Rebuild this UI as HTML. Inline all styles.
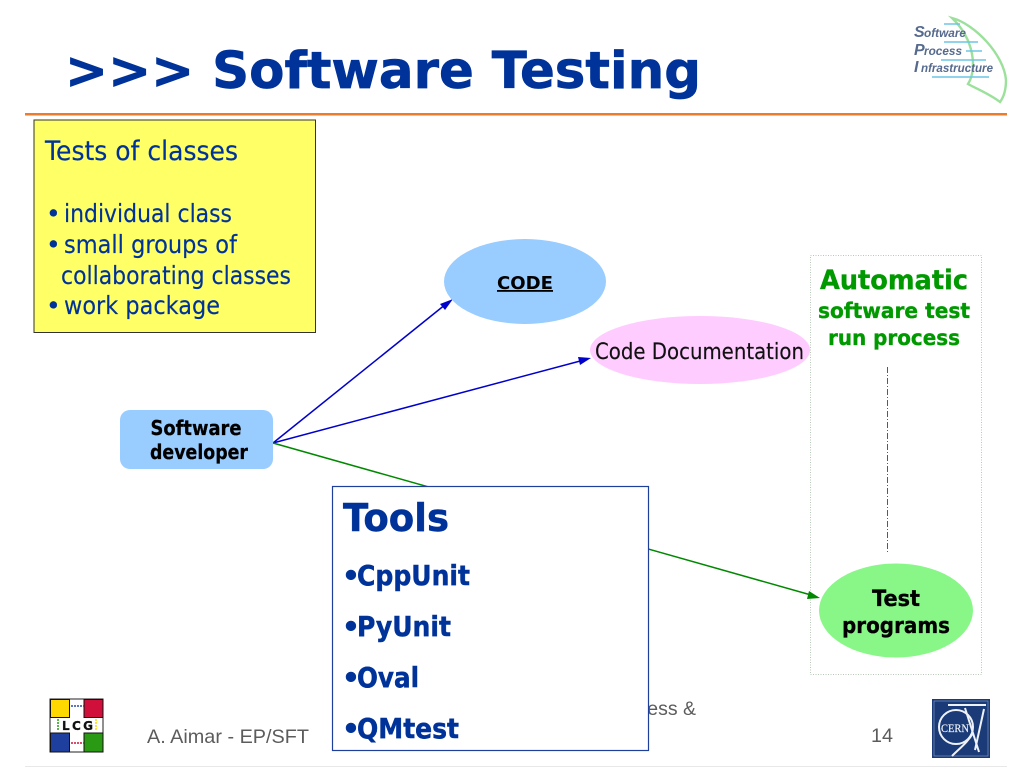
<!DOCTYPE html>
<html><head><meta charset="utf-8"><style>
html,body{margin:0;padding:0;background:#fff;width:1024px;height:768px;overflow:hidden}
svg{display:block}
.v{font-family:"DejaVu Sans",sans-serif}
.l{font-family:"Liberation Sans",sans-serif}
.b{font-weight:bold}
</style></head><body>
<svg width="1024" height="768" viewBox="0 0 1024 768" xmlns="http://www.w3.org/2000/svg">
<rect width="1024" height="768" fill="#fff"/>
<text class="v b" x="65" y="88" font-size="51" fill="#003399" stroke="#003399" stroke-width="0.7" textLength="636" lengthAdjust="spacingAndGlyphs">&gt;&gt;&gt; Software Testing</text>
<rect x="25" y="113" width="982" height="2.5" fill="#ee7a2c"/>
<rect x="25" y="766" width="982" height="1" fill="#e8e8e8"/>

<!-- SPI logo -->
<path d="M952 18 C975 24 1004 55 1006 80 C1006 92 1003 98 1000 102 C990 94 975 88 968 84 C977 70 975 40 952 18Z" fill="none" stroke="#9be09b" stroke-width="2.4"/>
<g stroke="#6cc6e6" stroke-width="1.5">
<line x1="944" y1="24" x2="960" y2="24"/><line x1="944" y1="42" x2="978" y2="42"/><line x1="966" y1="51" x2="982" y2="51"/><line x1="941" y1="60" x2="986" y2="60"/><line x1="932" y1="77" x2="989" y2="77"/>
</g>
<g class="l b" font-style="italic" fill="#566a8e">
<text x="914" y="37" font-size="16">S</text><text x="924" y="37" font-size="12" textLength="42" lengthAdjust="spacingAndGlyphs">oftware</text>
<text x="914" y="55" font-size="16">P</text><text x="924" y="55" font-size="12" textLength="38" lengthAdjust="spacingAndGlyphs">rocess</text>
<text x="914" y="72" font-size="16">I</text><text x="921" y="72" font-size="12" textLength="72" lengthAdjust="spacingAndGlyphs">nfrastructure</text>
</g>

<!-- Yellow box -->
<rect x="34" y="120" width="281.5" height="212.5" fill="#ffff66" stroke="#333" stroke-width="1"/>
<g class="v" fill="#003399" stroke="#003399" stroke-width="0.15" font-size="25">
<text x="45" y="160" textLength="193" lengthAdjust="spacingAndGlyphs" font-size="27">Tests of classes</text>
<text x="46" y="222">•</text><text x="64" y="222" textLength="168" lengthAdjust="spacingAndGlyphs">individual class</text>
<text x="46" y="253">•</text><text x="64" y="253" textLength="173" lengthAdjust="spacingAndGlyphs">small groups of</text>
<text x="61" y="284" textLength="230" lengthAdjust="spacingAndGlyphs">collaborating classes</text>
<text x="46" y="314">•</text><text x="64" y="314" textLength="156" lengthAdjust="spacingAndGlyphs">work package</text>
</g>

<!-- Automatic panel -->
<rect x="810.5" y="255.5" width="171" height="419" fill="#fff" stroke="#b8c8b8" stroke-width="1" stroke-dasharray="1 1.5"/>
<g class="v b" fill="#009900" stroke="#009900" stroke-width="0.35">
<text x="820" y="289" font-size="27" textLength="148" lengthAdjust="spacingAndGlyphs">Automatic</text>
<text x="818" y="318" font-size="21" textLength="152" lengthAdjust="spacingAndGlyphs">software test</text>
<text x="828" y="345" font-size="21" textLength="132" lengthAdjust="spacingAndGlyphs">run process</text>
</g>
<line x1="887.5" y1="367" x2="887.5" y2="552" stroke="#009900" stroke-width="1" stroke-dasharray="6 2 1 2"/>

<!-- Connectors -->
<g fill="none" stroke-width="1.5">
<line x1="273" y1="443" x2="446" y2="304" stroke="#0000cc"/>
<line x1="273" y1="443" x2="584" y2="360" stroke="#0000cc"/>
<line x1="273" y1="443" x2="811" y2="595" stroke="#008800"/>
</g>
<polygon points="453,299 445,310 440,304" fill="#0000cc"/>
<polygon points="591,358 580,365 578,357" fill="#0000cc"/>
<polygon points="820,598 807,599 809,591" fill="#008800"/>

<!-- Ellipses -->
<ellipse cx="525" cy="281.5" rx="81" ry="42.5" fill="#99ccff"/>
<text class="v b" x="525" y="289" font-size="18" fill="#000" text-anchor="middle" textLength="56" lengthAdjust="spacingAndGlyphs" text-decoration="underline">CODE</text>
<ellipse cx="700" cy="350" rx="110" ry="34" fill="#ffccff"/>
<text class="v" x="595" y="359" font-size="22.5" fill="#111" stroke="#111" stroke-width="0.15" textLength="209" lengthAdjust="spacingAndGlyphs">Code Documentation</text>
<ellipse cx="896" cy="610.5" rx="77" ry="47" fill="#88f788"/>
<g class="v b" fill="#000" stroke="#000" stroke-width="0.3" font-size="22" text-anchor="middle">
<text x="896" y="606" textLength="48" lengthAdjust="spacingAndGlyphs">Test</text>
<text x="896" y="633" textLength="108" lengthAdjust="spacingAndGlyphs">programs</text>
</g>

<!-- Software developer -->
<rect x="120" y="410" width="153" height="59" rx="10" fill="#99ccff"/>
<g class="v b" fill="#000" stroke="#000" stroke-width="0.25" font-size="20" text-anchor="middle">
<text x="196" y="435" textLength="91" lengthAdjust="spacingAndGlyphs">Software</text>
<text x="199" y="459" textLength="98" lengthAdjust="spacingAndGlyphs">developer</text>
</g>

<!-- Footer -->
<text class="l" x="147" y="743" font-size="19.5" fill="#5c5c5c" textLength="162" lengthAdjust="spacingAndGlyphs">A. Aimar - EP/SFT</text>
<text class="l" x="696" y="715" font-size="19.5" fill="#5c5c5c" text-anchor="end">Process &amp;</text>
<text class="l" x="871" y="742" font-size="19.5" fill="#5c5c5c" textLength="22" lengthAdjust="spacingAndGlyphs">14</text>

<!-- Tools box -->
<rect x="332.5" y="486.5" width="316" height="264" fill="#fff" stroke="#1e3f9a" stroke-width="1.2"/>
<g class="v b" fill="#003399" stroke="#003399" stroke-width="0.5" font-size="28">
<text x="343" y="531" font-size="38" textLength="106" lengthAdjust="spacingAndGlyphs">Tools</text>
<text x="342" y="585">•</text><text x="357" y="585" textLength="113" lengthAdjust="spacingAndGlyphs">CppUnit</text>
<text x="342" y="636">•</text><text x="357" y="636" textLength="94" lengthAdjust="spacingAndGlyphs">PyUnit</text>
<text x="342" y="687">•</text><text x="357" y="687" textLength="62" lengthAdjust="spacingAndGlyphs">Oval</text>
<text x="342" y="738">•</text><text x="357" y="738" textLength="102" lengthAdjust="spacingAndGlyphs">QMtest</text>
</g>

<!-- LCG logo -->
<rect x="50" y="699" width="53" height="53" fill="#fff" stroke="#222" stroke-width="1"/>
<rect x="50.5" y="699.5" width="19" height="18" fill="#ffd800" stroke="#111"/>
<rect x="84" y="699.5" width="19" height="18" fill="#d0103a" stroke="#111"/>
<rect x="50.5" y="733" width="19" height="19" fill="#1f3f9f" stroke="#111"/>
<rect x="84" y="733" width="19" height="19" fill="#2a9a14" stroke="#111"/>
<line x1="71" y1="706" x2="84" y2="706" stroke="#2a4aa8" stroke-width="1.5" stroke-dasharray="2 1"/>
<line x1="71" y1="743" x2="84" y2="743" stroke="#d0103a" stroke-width="1.5" stroke-dasharray="2 1"/>
<line x1="58" y1="719" x2="58" y2="731" stroke="#2a9a14" stroke-width="1.5" stroke-dasharray="2 1"/>
<line x1="96" y1="719" x2="96" y2="731" stroke="#ffd800" stroke-width="1.5" stroke-dasharray="2 1"/>
<text class="v b" x="62" y="730" font-size="12" fill="#111" stroke="#111" stroke-width="0.3" textLength="31" lengthAdjust="spacing">LCG</text>

<!-- CERN logo -->
<rect x="932" y="699" width="58" height="59" fill="#1a3b78"/>
<rect x="934" y="701" width="54" height="55" fill="none" stroke="#7f95bd" stroke-width="0.7"/>
<g fill="none" stroke="#eef1f7" stroke-width="2">
<circle cx="956" cy="727" r="17"/>
<path d="M948 705 H986"/>
<path d="M984 709 L975 750"/>
<path d="M965 708 L979 752"/>
<path d="M973 733 C968 742 960 748 952 756"/>
</g>
<text x="941" y="732" font-size="12" fill="#eef1f7" stroke="#eef1f7" stroke-width="0.2" textLength="28" lengthAdjust="spacingAndGlyphs" style="font-family:'Liberation Serif',serif">CERN</text>
</svg>
</body></html>
